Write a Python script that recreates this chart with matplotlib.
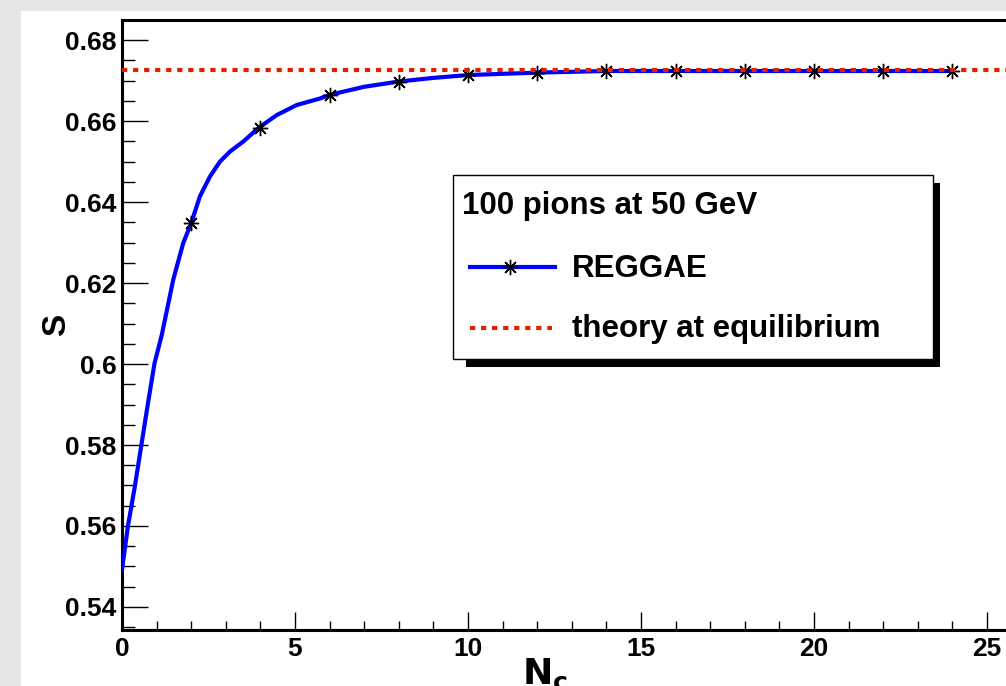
import matplotlib
matplotlib.use("Agg")
import matplotlib.pyplot as plt
from matplotlib.patches import Rectangle
from matplotlib.lines import Line2D
from matplotlib.ticker import MultipleLocator

plt.rcParams['font.family'] = ['Liberation Sans', 'DejaVu Sans']
plt.rcParams['font.weight'] = 'bold'

# curve
curve_x = [0, 0.17, 0.37, 0.56, 0.75, 0.94, 1.15, 1.48, 1.77, 2.0, 2.25, 2.54, 2.83,
           3.12, 3.51, 3.94, 4.47, 5.05, 5.72, 6, 7, 8, 9, 10, 11, 12, 13, 14, 16,
           18, 20, 22, 24]
curve_y = [0.5492, 0.5599, 0.5697, 0.58, 0.5903, 0.6002, 0.6072, 0.6208, 0.6299,
           0.6348, 0.6414, 0.6463, 0.65, 0.6525, 0.655, 0.6583, 0.6615, 0.664, 0.6656,
           0.6665, 0.6685, 0.6698, 0.6707, 0.6714, 0.6717, 0.672, 0.6722, 0.6724,
           0.6724, 0.6724, 0.6724, 0.6724, 0.6724]
# markers every two steps
mark_x = [2, 4, 6, 8, 10, 12, 14, 16, 18, 20, 22, 24]
mark_y = [0.6348, 0.6583, 0.6665, 0.6698, 0.6714, 0.6719, 0.6724, 0.6724, 0.6724,
          0.6724, 0.6724, 0.6724]
s_equilibrium = 0.6727

W, H = 1006, 686
fig = plt.figure(figsize=(W / 100, H / 100), dpi=100, facecolor='#e6e6e6')

def fx(x):
    return x / W

def fy(y):
    return 1 - y / H

# white pad
fig.add_artist(Rectangle((fx(21), 0), 1 - fx(21), fy(11), transform=fig.transFigure,
                         facecolor='white', edgecolor='none', zorder=0))

ax = fig.add_axes([fx(122), fy(630), 1 - fx(122), fy(20) - fy(630)])
ax.set_facecolor('white')
ax.set_xlim(0, (W - 122) / 34.6)
ax.set_ylim(0.5343, 0.685)

ax.plot(curve_x, curve_y, color='#0000ff', lw=3, zorder=3, solid_joinstyle='round')
ax.plot(mark_x, mark_y, ls='none', marker=(8, 2, 0), ms=11, mec='black', mew=1.0, zorder=4)
ax.axhline(s_equilibrium, color='#dd2200', lw=3, ls=(0, (1.25, 1.4)), zorder=5)
ax.axhline(0.5345, color='#dd2200', lw=0.8, zorder=2)

for side in ['left', 'bottom', 'top']:
    ax.spines[side].set_linewidth(2.2)
ax.spines['right'].set_visible(False)

ax.xaxis.set_major_locator(MultipleLocator(5))
ax.xaxis.set_minor_locator(MultipleLocator(1))
ax.yaxis.set_major_locator(MultipleLocator(0.02))
ax.yaxis.set_minor_locator(MultipleLocator(0.005))
ax.tick_params(axis='y', which='major', direction='in', length=19, width=1, pad=4, labelsize=19)
ax.tick_params(axis='y', which='minor', direction='in', length=9.5, width=1)
ax.tick_params(axis='x', which='major', direction='in', length=13, width=1, pad=5, labelsize=19)
ax.tick_params(axis='x', which='minor', direction='in', length=6.5, width=1)
ax.set_yticks([0.54, 0.56, 0.58, 0.6, 0.62, 0.64, 0.66, 0.68])
ax.set_yticklabels(['0.54', '0.56', '0.58', '0.6', '0.62', '0.64', '0.66', '0.68'])
for lab in ax.get_xticklabels() + ax.get_yticklabels():
    lab.set_fontweight('bold')

fig.text(fx(57), fy(325), 'S', rotation=90, ha='center', va='center', fontsize=24, fontweight='bold')
fig.text(fx(545), fy(674), r'$\mathbf{N_c}$', ha='center', va='center', fontsize=26)

# legend box with shadow
fig.add_artist(Rectangle((fx(466), fy(367)), fx(940) - fx(466), fy(183) - fy(367),
                         transform=fig.transFigure, facecolor='black', edgecolor='none', zorder=6))
fig.add_artist(Rectangle((fx(453), fy(359)), fx(933) - fx(453), fy(175) - fy(359),
                         transform=fig.transFigure, facecolor='white', edgecolor='black',
                         lw=1, zorder=7))
fig.text(fx(462), fy(206), '100 pions at 50 GeV', ha='left', va='center', fontsize=22.5,
         fontweight='bold', zorder=8)
fig.add_artist(Line2D([fx(470), fx(555)], [fy(267), fy(267)], transform=fig.transFigure,
                      color='#0000ff', lw=3, zorder=8))
fig.add_artist(Line2D([fx(510)], [fy(267)], transform=fig.transFigure, ls='none',
                      marker=(8, 2, 0), ms=11, mec='black', mew=1.0, zorder=9))
fig.text(fx(572), fy(269), 'REGGAE', ha='left', va='center', fontsize=22.5,
         fontweight='bold', zorder=8)
fig.add_artist(Line2D([fx(470), fx(552)], [fy(328), fy(328)], transform=fig.transFigure,
                      color='#dd2200', lw=3, ls=(0, (1.25, 1.4)), zorder=8))
fig.text(fx(572), fy(329), 'theory at equilibrium', ha='left', va='center', fontsize=22.5,
         fontweight='bold', zorder=8)

fig.savefig('out.png', dpi=100, facecolor=fig.get_facecolor())
